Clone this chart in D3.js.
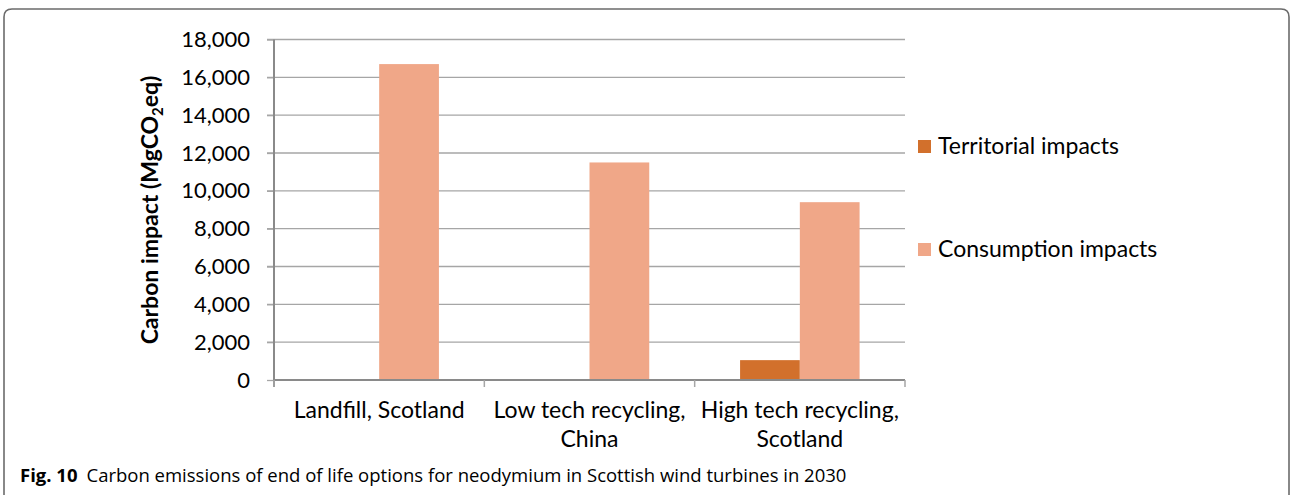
<!DOCTYPE html>
<html><head><meta charset="utf-8">
<script src="https://cdn.jsdelivr.net/npm/d3@7"></script>
<style>
html,body{margin:0;padding:0;background:#fff;}
svg{display:block;}
</style></head>
<body>
<svg id="chart" width="1290" height="495"></svg>
<script>
const categories = [["Landfill, Scotland"], ["Low tech recycling,", "China"], ["High tech recycling,", "Scotland"]];
const seriesNames = ["Territorial impacts", "Consumption impacts"];
const territorial = [0, 0, 1050];
const consumption = [16700, 11500, 9400];
const yTicks = [0, 2000, 4000, 6000, 8000, 10000, 12000, 14000, 16000, 18000];
const colors = ["#D2702C", "#F0A788"];
const font = "Lato, 'Open Sans', sans-serif";

(function() {
const svg = d3.select("#chart");
// frame
svg.append("path")
  .attr("d", "M4,495 L4,17 Q4,9 12,9 L1281,9 Q1289,9 1289,17 L1289,495")
  .attr("fill", "none").attr("stroke", "#6b6b6b").attr("stroke-width", 1.6);

const pL = 274, pR = 905, pT = 39.5, pB = 380;
const x = d3.scaleBand().domain(d3.range(categories.length)).range([pL, pR]).paddingInner(0).paddingOuter(0);
const y = d3.scaleLinear().domain([0, 18000]).range([pB, pT]);
const inner = d3.scaleBand().domain([0, 1]).range([0, x.bandwidth()]).paddingInner(0).paddingOuter(0.76);

// gridlines
svg.append("g").selectAll("line").data(yTicks.filter(d => d > 0)).join("line")
  .attr("x1", pL - 7).attr("x2", pR)
  .attr("y1", d => y(d)).attr("y2", d => y(d))
  .attr("stroke", "#a6a6a6").attr("stroke-width", 1.3);

// y axis
const yAxis = d3.axisLeft(y).tickValues(yTicks).tickSize(7).tickPadding(17)
  .tickFormat(d => d3.format(",")(d));
const gy = svg.append("g").attr("transform", `translate(${pL},0)`).call(yAxis);
gy.select(".domain").remove();
gy.selectAll(".tick line").attr("stroke", "#a6a6a6").attr("stroke-width", 1.3);
gy.selectAll(".tick text").attr("font-family", font).attr("font-size", 22).attr("fill", "#000");
svg.append("line").attr("x1", pL).attr("x2", pL).attr("y1", pT).attr("y2", pB + 7)
  .attr("stroke", "#8a8a8a").attr("stroke-width", 2);

// bars
const data = categories.map((c, i) => [territorial[i], consumption[i]]);
const cg = svg.append("g").selectAll("g").data(data).join("g")
  .attr("transform", (d, i) => `translate(${x(i)},0)`);
cg.selectAll("rect").data(d => d.map((v, k) => ({v, k}))).join("rect")
  .attr("x", d => inner(d.k)).attr("width", inner.bandwidth())
  .attr("y", d => y(d.v)).attr("height", d => pB - y(d.v))
  .attr("fill", d => colors[d.k]);

// x axis
svg.append("line").attr("x1", pL).attr("x2", pR).attr("y1", pB).attr("y2", pB)
  .attr("stroke", "#8a8a8a").attr("stroke-width", 2);
svg.append("g").selectAll("line").data(d3.range(categories.length + 1)).join("line")
  .attr("x1", i => pL + i * x.bandwidth()).attr("x2", i => pL + i * x.bandwidth())
  .attr("y1", pB).attr("y2", pB + 7)
  .attr("stroke", "#a6a6a6").attr("stroke-width", 1.5);
const lab = svg.append("g").selectAll("text").data(categories).join("text")
  .attr("x", (d, i) => x(i) + x.bandwidth() / 2).attr("y", 418)
  .attr("text-anchor", "middle").attr("font-family", font).attr("font-size", 23).attr("fill", "#000");
lab.selectAll("tspan").data(d => d).join("tspan")
  .attr("x", function() { return this.parentNode.getAttribute("x"); })
  .attr("dy", (d, j) => j === 0 ? 0 : 29).text(d => d);

// y title
const yt = svg.append("text").attr("transform", "translate(158,210) rotate(-90)")
  .attr("text-anchor", "middle").attr("font-family", font).attr("font-size", 23)
  .attr("font-weight", "bold").attr("fill", "#000");
yt.append("tspan").text("Carbon impact (MgCO");
yt.append("tspan").attr("font-size", 15).attr("dy", 5).text("2");
yt.append("tspan").attr("dy", -5).text("eq)");

// legend
const lg = svg.append("g").selectAll("g").data(seriesNames).join("g")
  .attr("transform", (d, i) => `translate(918,${146 + i * 103})`);
lg.append("rect").attr("x", 0).attr("y", -6).attr("width", 13).attr("height", 13)
  .attr("fill", (d, i) => colors[i]);
lg.append("text").attr("x", 20).attr("y", 8).attr("font-family", font).attr("font-size", 23)
  .attr("fill", "#000").text(d => d);

// caption
const cap = svg.append("text").attr("x", 20).attr("y", 482).attr("font-family", "'Open Sans', sans-serif")
  .attr("font-size", 18.5).attr("fill", "#000");
cap.append("tspan").attr("font-weight", "bold").text("Fig. 10");
cap.append("tspan").attr("dx", 9).text("Carbon emissions of end of life options for neodymium in Scottish wind turbines in 2030");
})();
</script>
</body></html>
